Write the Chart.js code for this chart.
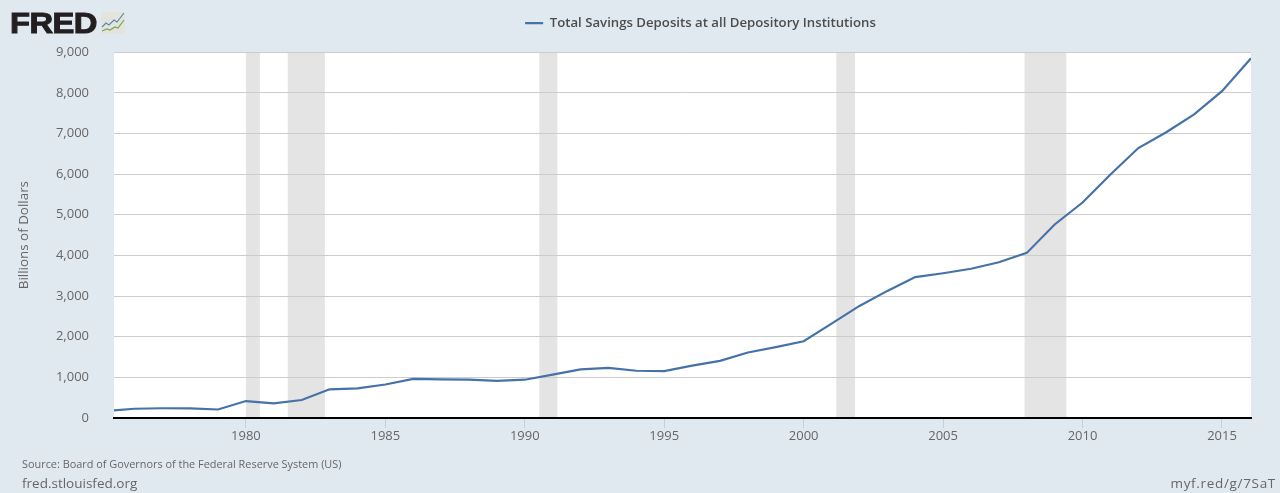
<!DOCTYPE html>
<html>
<head>
<meta charset="utf-8">
<title>Total Savings Deposits at all Depository Institutions</title>
<script src="https://cdn.jsdelivr.net/npm/chart.js@4"></script>
<style>
    html, body { margin: 0; padding: 0; background: #e1e9f0; }
    #wrap { position: relative; width: 1280px; height: 493px; overflow: hidden; }
    canvas { position: absolute; left: 0; top: 0; }
    .txt { position: absolute; font-family: "Open Sans", sans-serif; color: #666; white-space: nowrap; }
    #logo { left: 10px; top: 4px; font: 900 29px/38px "Liberation Sans", sans-serif; color: #231f20; -webkit-text-stroke: 1px #231f20; letter-spacing: -0.5px; transform: scaleX(1.13); transform-origin: left center; }
    #logoIcon { position: absolute; left: 101px; top: 12px; }
    #source { left: 22px; top: 456px; font-size: 10.9px; line-height: 16px; }
    #siteLink { left: 22px; top: 474px; font-size: 13.5px; line-height: 18px; }
    #shortLink { right: 4px; top: 474px; font-size: 13.5px; line-height: 18px; letter-spacing: 0.68px; }
</style>
</head>
<body>
<div id="wrap">
    <canvas id="savingsChart" width="1280" height="493"></canvas>
    <div class="txt" id="logo">FRED</div>
    <svg id="logoIcon" width="24" height="22" viewBox="0 0 24 22">
        <rect width="24" height="22" rx="2" fill="#e4e4df"/>
        <polyline points="1,15 5,11 8,13 13,8 16,10 23,1" fill="none" stroke="#5b88ad" stroke-width="1.2"/>
        <polyline points="1,19 6,17 9,18 14,15 17,16 23,8" fill="none" stroke="#7ba34c" stroke-width="1.2"/>
    </svg>
    <div class="txt" id="source">Source: Board of Governors of the Federal Reserve System (US)</div>
    <div class="txt" id="siteLink">fred.stlouisfed.org</div>
    <div class="txt" id="shortLink">myf.red/g/7SaT</div>
</div>
<script>
// Values, billions of dollars
const seriesName = 'Total Savings Deposits at all Depository Institutions';
const years = [1975.27, 1976, 1977, 1978, 1979, 1980, 1981, 1982, 1983, 1984, 1985, 1986, 1987, 1988,
    1989, 1990, 1991, 1992, 1993, 1994, 1995, 1996, 1997, 1998, 1999, 2000, 2001, 2002, 2003, 2004,
    2005, 2006, 2007, 2008, 2009, 2010, 2011, 2012, 2013, 2014, 2015, 2016.04];
const deposits = [189, 228, 240, 237, 209, 417, 360, 442, 705, 729, 825, 962, 952, 942,
    912, 942, 1067, 1197, 1232, 1162, 1152, 1287, 1407, 1612, 1742, 1887, 2322, 2757, 3127, 3467,
    3562, 3672, 3832, 4062, 4762, 5302, 5992, 6642, 7032, 7472, 8042, 8850];
const xTicks = [1980, 1985, 1990, 1995, 2000, 2005, 2010, 2015];
const yTicks = [0, 1000, 2000, 3000, 4000, 5000, 6000, 7000, 8000, 9000];
const recessionStarts = [1980.0, 1981.5, 1990.52, 2001.17, 2007.92];
const recessionEnds = [1980.5, 1982.83, 1991.17, 2001.84, 2009.42];

// White plot area and recession bands, painted before the grid so the grid sits on top
const plotBackground = {
    id: 'plotBackground',
    beforeDraw(chart) {
        const { ctx, chartArea: a, scales: { x } } = chart;
        ctx.save();
        ctx.fillStyle = '#ffffff';
        ctx.fillRect(a.left, a.top, a.right - a.left, a.bottom - a.top);
        ctx.fillStyle = '#e4e4e4';
        recessionStarts.forEach((start, i) => {
            const x0 = x.getPixelForValue(start);
            const x1 = x.getPixelForValue(recessionEnds[i]);
            ctx.fillRect(x0, a.top, x1 - x0, a.bottom - a.top);
        });
        ctx.restore();
    }
};

// The legend sits right of the canvas centre in the original
const legendShift = {
    id: 'legendShift',
    afterLayout(chart) {
        chart.legend.left += 75;
        chart.legend.right += 75;
        chart.legend.top -= 12.5;
        chart.legend.bottom -= 12.5;
    }
};

new Chart(document.getElementById('savingsChart'), {
    type: 'line',
    data: {
        datasets: [{
            label: seriesName,
            data: years.map((year, i) => ({ x: year, y: deposits[i] })),
            borderColor: '#4572a7',
            backgroundColor: '#4572a7',
            borderWidth: 2.2,
            pointRadius: 0,
            tension: 0
        }]
    },
    options: {
        responsive: false,
        animation: false,
        events: [],
        layout: { padding: { left: 0, right: 29, top: 0, bottom: 0 } },
        plugins: {
            tooltip: { enabled: false },
            legend: {
                position: 'top',
                onClick: null,
                labels: {
                    usePointStyle: true,
                    pointStyle: 'line',
                    pointStyleWidth: 18,
                    padding: 29,
                    color: '#4d4d4d',
                    font: { family: '"Open Sans", sans-serif', size: 13.2, weight: '600' }
                }
            }
        },
        scales: {
            x: {
                type: 'linear',
                min: 1975.27,
                max: 2016.04,
                afterBuildTicks(axis) { axis.ticks = xTicks.map(v => ({ value: v })); },
                afterFit(axis) { axis.height = 75; },
                grid: { drawOnChartArea: false, drawTicks: true, tickLength: 10, tickColor: '#c0d0e0', tickWidth: 1 },
                border: { display: true, color: '#000000', width: 2 },
                ticks: {
                    autoSkip: false,
                    maxRotation: 0,
                    padding: 0,
                    color: '#666666',
                    font: { family: '"Open Sans", sans-serif', size: 13 },
                    callback: v => String(v)
                }
            },
            y: {
                min: 0,
                max: 9000,
                afterBuildTicks(axis) { axis.ticks = yTicks.map(v => ({ value: v })); },
                afterFit(axis) { axis.width = 114; },
                grid: {
                    drawTicks: false,
                    color: ctx => ctx.tick && ctx.tick.value === 0 ? 'rgba(0,0,0,0)' : '#cccccc',
                    lineWidth: 1
                },
                border: { display: false },
                title: {
                    display: true,
                    text: 'Billions of Dollars',
                    color: '#666666',
                    padding: { top: 16, bottom: 0 },
                    font: { family: '"Open Sans", sans-serif', size: 13.4 }
                },
                ticks: {
                    padding: 25,
                    color: '#666666',
                    font: { family: '"Open Sans", sans-serif', size: 13 },
                    callback: v => v.toLocaleString('en-US')
                }
            }
        }
    },
    plugins: [plotBackground, legendShift]
});
</script>
</body>
</html>
